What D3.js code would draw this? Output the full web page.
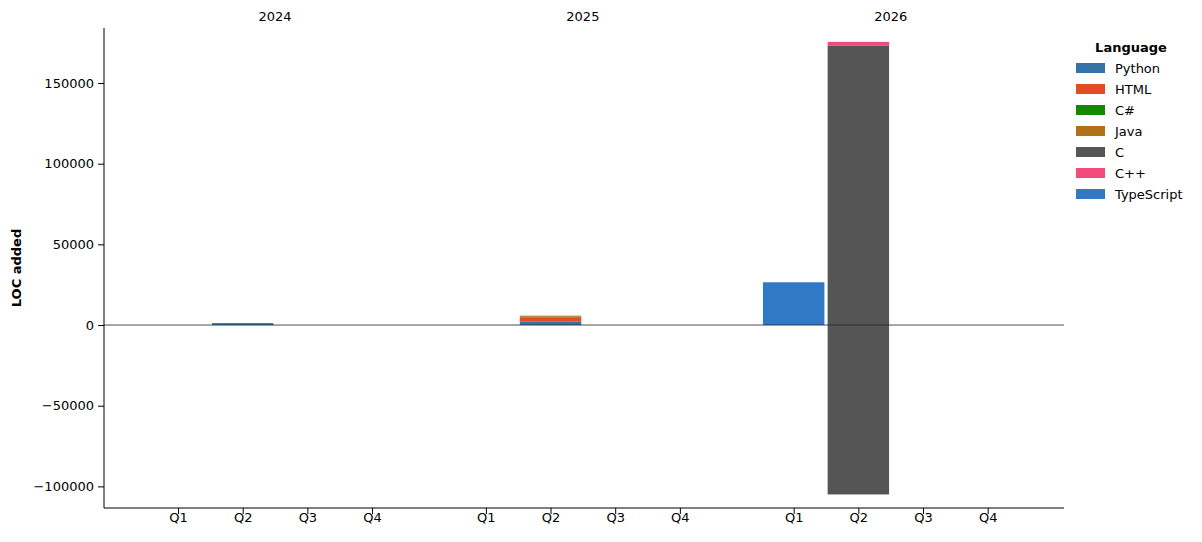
<!DOCTYPE html><html><head><meta charset="utf-8"><script src="https://cdn.jsdelivr.net/npm/d3@7"></script>
<style>body{margin:0;background:#fff}text{font-family:"DejaVu Sans",sans-serif}</style></head><body><svg id="c" width="1202" height="542"></svg><script>
const years=["2024","2025","2026"];
const quarters=["Q1","Q2","Q3","Q4"];
const languages=["Python","HTML","C#","Java","C","C++","TypeScript"];
const colors=["#3572A5","#e34c26","#178600","#b07219","#555555","#f34b7d","#3178c6"];
// [year index, quarter index, language, value]
const entries=[
 [0,1,"Python",1200],
 [1,1,"Python",2300],[1,1,"HTML",2500],[1,1,"C#",400],[1,1,"Java",600],
 [2,0,"TypeScript",26500],
 [2,1,"C",173000],[2,1,"C",-105000],[2,1,"C++",2500]
];
const yTicks=[-100000,-50000,0,50000,100000,150000];
const svg=d3.select("#c");
const L=104,R=1064,T=28,B=508;
const yearStep=4.76;
const x=d3.scaleLinear().domain([-1.145,13.7]).range([L,R]);
const y=d3.scaleLinear().domain([-113400,184100]).range([B,T]);
const col=d3.scaleOrdinal().domain(languages).range(colors);
const bw=x(0.95)-x(0);
const pos={},neg={};
entries.forEach(([yi,qi,lang,v])=>{
 const k=yi+"-"+qi;const p=yi*yearStep+qi;
 let y0,y1;
 if(v>=0){y0=pos[k]||0;y1=y0+v;pos[k]=y1;}else{y0=neg[k]||0;y1=y0+v;neg[k]=y1;}
 svg.append("rect").attr("x",x(p)-bw/2).attr("width",bw)
  .attr("y",y(Math.max(y0,y1))).attr("height",Math.abs(y(y0)-y(y1))).attr("fill",col(lang));
});
svg.append("line").attr("x1",L).attr("x2",R).attr("y1",y(0)).attr("y2",y(0)).attr("stroke","#222").attr("stroke-width",0.8);
const ya=svg.append("g").attr("transform",`translate(${L},0)`).call(d3.axisLeft(y).tickValues(yTicks).tickFormat(d=>d<0?"\u2212"+(-d):d).tickSizeOuter(0));
const xt=[];years.forEach((yr,yi)=>quarters.forEach((q,qi)=>xt.push({p:yi*yearStep+qi,q})));
const xa=svg.append("g").attr("transform",`translate(0,${B})`).call(d3.axisBottom(x).tickValues(xt.map(d=>d.p)).tickFormat((d,i)=>xt[i].q).tickSizeOuter(0));
ya.select(".domain").attr("d",`M0,${B}V${T}`);
xa.select(".domain").attr("d",`M${L},0H${R}`);
[ya,xa].forEach(a=>{a.selectAll("text").attr("font-size",13).attr("fill","#000");a.selectAll("line,path").attr("stroke","#000");});
ya.selectAll("text").attr("dx",-1);xa.selectAll("text").attr("dy",5);
years.forEach((yr,yi)=>svg.append("text").attr("x",x(yi*yearStep+1.5)).attr("y",21).attr("text-anchor","middle").attr("font-size",13).text(yr));
svg.append("text").attr("transform",`translate(21,${(T+B)/2}) rotate(-90)`).attr("text-anchor","middle").attr("font-size",13).attr("font-weight","bold").text("LOC added");
svg.append("text").attr("x",1131).attr("y",52).attr("text-anchor","middle").attr("font-size",13).attr("font-weight","bold").text("Language");
languages.forEach((l,i)=>{const yy=68+i*21;
 svg.append("rect").attr("x",1076).attr("y",yy-5).attr("width",29).attr("height",10).attr("fill",colors[i]);
 svg.append("text").attr("x",1115).attr("y",yy+5).attr("font-size",13).text(l);});
</script></body></html>
